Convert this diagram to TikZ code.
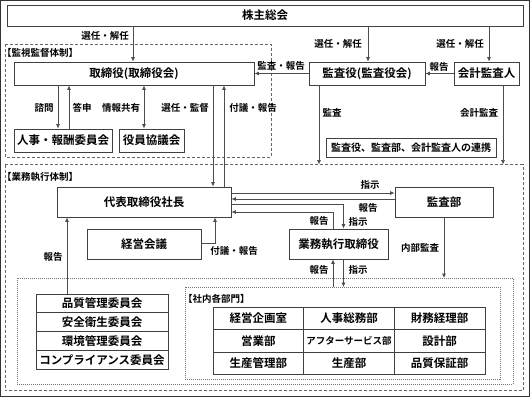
\documentclass[tikz,border=0pt]{standalone}
\usepackage{fontspec}
\setmainfont{Noto Sans CJK JP}[BoldFont={Noto Sans CJK JP Bold}]
\usetikzlibrary{arrows.meta}
\tikzset{
  box/.style={draw=black!75, line width=0.8pt, fill=white, inner sep=0pt,
    font=\fontsize{11.5}{12}\selectfont\bfseries},
  lbl/.style={inner sep=0pt, font=\fontsize{9.5}{10}\selectfont\bfseries},
  cell/.style={inner sep=0pt, font=\fontsize{11.5}{12}\selectfont\bfseries},
  arr/.style={draw=black!70, line width=0.7pt, -{Latex[length=4.5pt,width=4pt]}},
  darr/.style={draw=black!70, line width=0.7pt, {Latex[length=4.5pt,width=4pt]}-{Latex[length=4.5pt,width=4pt]}},
  dashframe/.style={draw=black!60, line width=0.8pt, dash pattern=on 3pt off 2pt},
  dotframe/.style={draw=black!55, line width=0.7pt, dash pattern=on 1pt off 1pt},
  gridline/.style={draw=black!75, line width=0.8pt}
}
\begin{document}
\begin{tikzpicture}[x=1pt,y=-1pt]
\useasboundingbox (0,0) rectangle (530,397);
\draw[black!80, line width=1pt] (0.5,0.5) rectangle (529.5,396.5);

% frames
\draw[dashframe] (5,44) rectangle (271,157);
\draw[dashframe] (5,164.5) rectangle (523,390.5);
\draw[dotframe] (17,278) rectangle (513,384);
\draw[dotframe] (185,287) rectangle (500,379);

\node[lbl, anchor=west] (lkanshi) at (2,53) {【監視監督体制】};
\node[lbl, anchor=west] (lgyomu) at (2,177) {【業務執行体制】};
\node[lbl, anchor=west] (lshanai) at (183,299) {【社内各部門】};

% boxes
\node[box, minimum width=516pt, minimum height=21pt] (sokai) at (265,15.5) {株主総会};
\node[box, minimum width=240pt, minimum height=23pt] (tori) at (134,73.5) {取締役(取締役会)};
\node[box, minimum width=116pt, minimum height=23pt] (kansayaku) at (367,73.5) {監査役(監査役会)};
\node[box, minimum width=65pt, minimum height=23pt] (kaikei) at (486.5,73.5) {会計監査人};
\node[box, minimum width=98pt, minimum height=23pt] (jinji) at (63,140.5) {人事・報酬委員会};
\node[box, minimum width=65pt, minimum height=23pt] (yakuin) at (151.5,140.5) {役員協議会};
\node[box, minimum width=170pt, minimum height=19pt, font=\fontsize{10}{11}\selectfont\bfseries] (renkei) at (411,147.5) {監査役、監査部、会計監査人の連携};
\node[box, minimum width=174pt, minimum height=30pt] (daihyo) at (144,202) {代表取締役社長};
\node[box, minimum width=114pt, minimum height=30pt] (keiei) at (144,244) {経営会議};
\node[box, minimum width=98pt, minimum height=30pt] (kansabu) at (444,202) {監査部};
\node[box, minimum width=99pt, minimum height=30pt] (gyomu) at (338.5,244) {業務執行取締役};

% committees
\node[box, minimum width=132pt, minimum height=18.75pt] (iin1) at (102,303.375) {品質管理委員会};
\node[box, minimum width=132pt, minimum height=18.75pt] (iin2) at (102,322.125) {安全衛生委員会};
\node[box, minimum width=132pt, minimum height=18.75pt] (iin3) at (102,340.875) {環境管理委員会};
\node[box, minimum width=132pt, minimum height=18.75pt] (iin4) at (102,359.625) {コンプライアンス委員会};

% departments table
\draw[gridline] (213,307) rectangle (485,374.5);
\draw[gridline] (213,329.5) -- (485,329.5);
\draw[gridline] (213,352) -- (485,352);
\draw[gridline] (303.7,307) -- (303.7,374.5);
\draw[gridline] (394.3,307) -- (394.3,374.5);
\node[cell] (d11) at (258.3,318.25) {経営企画室};
\node[cell] (d12) at (349,318.25) {人事総務部};
\node[cell] (d13) at (439.7,318.25) {財務経理部};
\node[cell] (d21) at (258.3,340.75) {営業部};
\node[cell, font=\fontsize{9.5}{10}\selectfont\bfseries] (d22) at (349,340.75) {アフターサービス部};
\node[cell] (d23) at (439.7,340.75) {設計部};
\node[cell] (d31) at (258.3,363.25) {生産管理部};
\node[cell] (d32) at (349,363.25) {生産部};
\node[cell] (d33) at (439.7,363.25) {品質保証部};

% free ends
\coordinate (kansaEnd) at (319,164.5);
\coordinate (kaikeiEnd) at (503,164.5);
\coordinate (naibuEnd) at (444,278);
\coordinate (bumonA) at (333,287);
\coordinate (bumonB) at (343.5,287);

% connectors
\draw[arr] (133,0 |- sokai.south) -- (133,0 |- tori.north);
\draw[arr] (368,0 |- sokai.south) -- (368,0 |- kansayaku.north);
\draw[arr] (489,0 |- sokai.south) -- (489,0 |- kaikei.north);
\draw[arr] (kaikei.west) -- (kansayaku.east);
\draw[arr] (kansayaku.west) -- (tori.east);
\draw[arr] (58,0 |- tori.south) -- (58,0 |- jinji.north);
\draw[arr] (69,0 |- jinji.north) -- (69,0 |- tori.south);
\draw[darr] (144,0 |- tori.south) -- (144,0 |- yakuin.north);
\draw[arr] (213,0 |- tori.south) -- (213,0 |- daihyo.north);
\draw[arr] (224,0 |- daihyo.north) -- (224,0 |- tori.south);
\draw[arr] (319,0 |- kansayaku.south) -- (kansaEnd);
\draw[arr] (503,0 |- kaikei.south) -- (kaikeiEnd);
\draw[arr] (daihyo.east |- 0,193) -- (kansabu.west |- 0,193);
\draw[arr] (kansabu.west |- 0,199) -- (daihyo.east |- 0,199);
\draw[arr] (daihyo.east |- 0,204) -- (343.5,204) -- (343.5,0 |- gyomu.north);
\draw[arr] (333,0 |- gyomu.north) -- (333,212) -- (daihyo.east |- 0,212);
\draw[arr] (keiei.east |- 0,243) -- (215,243) -- (215,0 |- daihyo.south);
\draw[arr] (67,0 |- iin1.north) -- (67,0 |- daihyo.south);
\draw[arr] (444,0 |- kansabu.south) -- (naibuEnd);
\draw[arr] (bumonA) -- (333,0 |- gyomu.south);
\draw[arr] (343.5,0 |- gyomu.south) -- (bumonB);

% labels
\node[lbl] (l1) at (105,36) {選任・解任};
\node[lbl] (l2) at (338,44) {選任・解任};
\node[lbl] (l3) at (460,44) {選任・解任};
\node[lbl] (l4) at (281,65.5) {監査・報告};
\node[lbl] (l5) at (439,66.5) {報告};
\node[lbl] (l6) at (44,108) {諮問};
\node[lbl] (l7) at (82,108) {答申};
\node[lbl] (l8) at (121,108) {情報共有};
\node[lbl] (l9) at (185,108) {選任・監督};
\node[lbl] (l10) at (253,108) {付議・報告};
\node[lbl] (l11) at (332,113) {監査};
\node[lbl] (l12) at (479,113) {会計監査};
\node[lbl] (l13) at (370,185) {指示};
\node[lbl] (l14) at (368,208) {報告};
\node[lbl] (l15) at (319,221) {報告};
\node[lbl] (l16) at (358,222) {指示};
\node[lbl] (l17) at (53,257) {報告};
\node[lbl] (l18) at (234,251) {付議・報告};
\node[lbl] (l19) at (420,248) {内部監査};
\node[lbl] (l20) at (319,270) {報告};
\node[lbl] (l21) at (358,270) {指示};
\end{tikzpicture}
\end{document}
